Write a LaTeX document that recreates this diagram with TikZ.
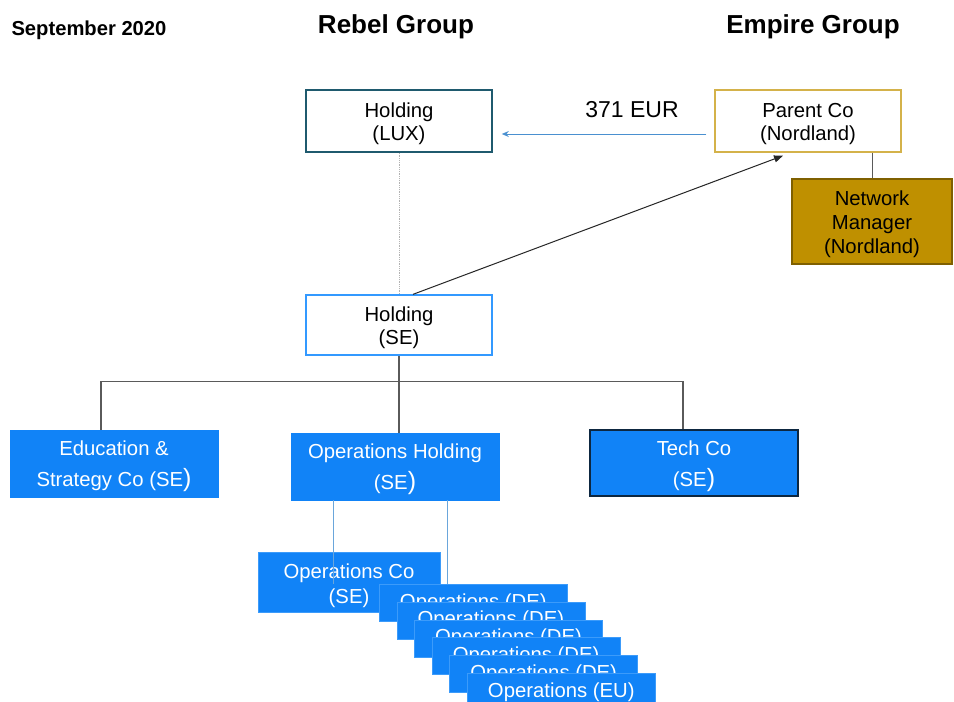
\documentclass[tikz,border=0pt]{standalone}
\usepackage{fontspec}
\setmainfont{Liberation Sans}
\usetikzlibrary{arrows.meta}

\definecolor{opsblue}{HTML}{1183F7}
\definecolor{opsedge}{HTML}{3C9BFA}
\definecolor{luxedge}{HTML}{1F5A6E}
\definecolor{seedge}{HTML}{3399FF}
\definecolor{goldedge}{HTML}{D4B24A}
\definecolor{goldfill}{HTML}{BF9000}
\definecolor{golddark}{HTML}{7F6000}
\definecolor{techedge}{HTML}{0D2740}
\definecolor{treegray}{HTML}{5A5A5A}
\definecolor{linkblue}{HTML}{4A90D0}
\definecolor{thinblue}{HTML}{6AA6DB}

% taller closing bracket used in the blue boxes
\newcommand{\tallparen}{{\fontsize{25}{25}\selectfont)}}
% invisible strut that lowers a text block inside its box
\newcommand{\lowr}{\rule{0pt}{21pt}}

\tikzset{
  base/.style={rectangle, align=center, inner sep=0pt,
    font=\fontsize{20.3}{23}\selectfont},
  whitebox/.style={base, fill=white, text=black},
  bluebox/.style={base, fill=opsblue, draw=opsblue, text=white,
    font=\fontsize{20.3}{31}\selectfont},
  stackbox/.style={bluebox, draw=opsedge, line width=0.6pt,
    minimum width=188pt, minimum height=37pt, anchor=north west},
  heading/.style={font=\bfseries\fontsize{26}{30}\selectfont, text=black},
  treeline/.style={draw=treegray, line width=1.1pt},
}

\begin{document}
\begin{tikzpicture}[x=1pt, y=-1pt]
\useasboundingbox (0,0) rectangle (954,702);
\clip (0,0) rectangle (954,702);
\fill[white] (0,0) rectangle (954,702);

% titles
\node[font=\bfseries\fontsize{20.2}{24}\selectfont] (date) at (89,30) {September 2020};
\node[heading] (rebel) at (396,27) {Rebel Group};
\node[heading] (empire) at (813,27) {Empire Group};

% top level
\node[whitebox, draw=luxedge, line width=1.6pt, minimum width=186pt, minimum height=62pt]
  (hlux) at (399,121) {\lowr Holding\\(LUX)};
\node[whitebox, draw=goldedge, line width=1.4pt, minimum width=186pt, minimum height=62pt]
  (parent) at (808,121) {\lowr Parent Co\\(Nordland)};
\node[base, fill=goldfill, draw=golddark, line width=1.4pt, text=black,
  minimum width=160pt, minimum height=85pt, font=\fontsize{20.3}{24}\selectfont]
  (netmgr) at (872,221.5) {\lowr Network\\Manager\\(Nordland)};
\node[font=\fontsize{23}{26}\selectfont] (amount) at (632,110) {371 EUR};

% Swedish holding
\node[whitebox, draw=seedge, line width=1.3pt, minimum width=186pt, minimum height=60pt]
  (hse) at (399,325) {\lowr Holding\\(SE)};

% subsidiaries
\node[bluebox, minimum width=208pt, minimum height=67pt]
  (edu) at (114,463.5) {\lowr Education \&\\Strategy Co (SE\tallparen};
\node[bluebox, minimum width=208pt, minimum height=67pt]
  (opsh) at (395,466.5) {\lowr Operations Holding\\(SE\tallparen};
\node[bluebox, draw=techedge, line width=2.6pt, minimum width=208pt, minimum height=66pt]
  (tech) at (694,463) {\lowr Tech Co\\(SE\tallparen};

\node[bluebox, draw=opsedge, line width=0.6pt, minimum width=182pt, minimum height=60pt,
  font=\fontsize{20.3}{25}\selectfont]
  (opsco) at (349,582.5) {\lowr Operations Co\\(SE)};

% stacked country operations
\node[stackbox] (de1) at (379,584) {Operations (DE)};
\node[stackbox] (de2) at (396.6,601.8) {Operations (DE)};
\node[stackbox] (de3) at (414.2,619.6) {Operations (DE)};
\node[stackbox] (de4) at (431.8,637.4) {Operations (DE)};
\node[stackbox] (de5) at (449.4,655.2) {Operations (DE)};
\node[stackbox] (eu) at (467,673) {Operations (EU)};

% connectors
\draw[gray!60, line width=0.8pt, densely dotted] (hlux.south) -- (hse.north);
\draw[linkblue, line width=1pt, -{Stealth[length=7pt,width=6pt]}]
  ([xshift=-8pt,yshift=-13pt]parent.west) -- ([xshift=9pt,yshift=-13pt]hlux.east);
\draw[treegray, line width=1pt] (parent.south -| netmgr.north) -- (netmgr.north);
\draw[black!85, line width=1pt, -{Triangle[length=9pt,width=7pt]}]
  ([xshift=14pt]hse.north) -- ([xshift=-25pt,yshift=-3pt]parent.south);

\coordinate (bus) at ([yshift=-26pt]hse.south);
\draw[treeline] (hse.south) -- (opsh.north -| hse.south);
\draw[treeline] ([xshift=-13pt]edu.north) |- (bus) -| ([xshift=-11pt]tech.north);

\coordinate (leftdrop) at (333,584);
\draw[thinblue, line width=0.8pt] (opsh.south -| leftdrop) -- (leftdrop);
\draw[thinblue, line width=0.8pt] ([xshift=68pt]de1.north west |- opsh.south) -- ([xshift=68pt]de1.north west);
\end{tikzpicture}
\end{document}
